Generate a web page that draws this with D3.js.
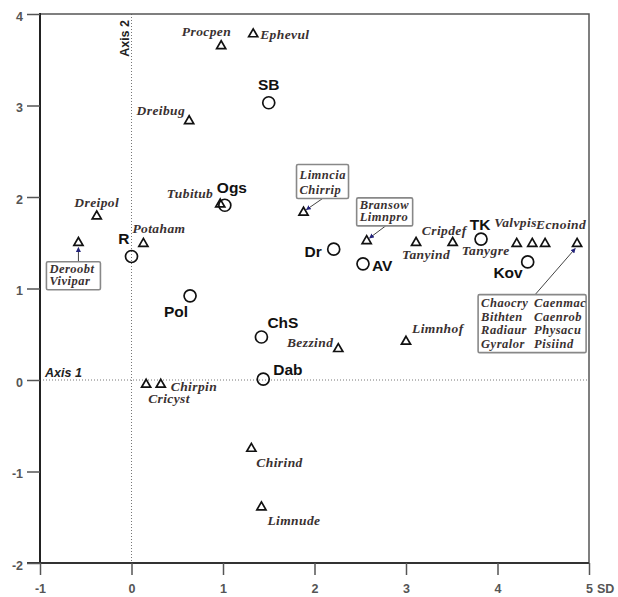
<!DOCTYPE html>
<html>
<head>
<meta charset="utf-8">
<script src="https://cdn.jsdelivr.net/npm/d3@7"></script>
<style>
  html, body { margin: 0; padding: 0; background: #fff; }
  svg { display: block; }
  .site { font-family: "Liberation Sans", Arial, sans-serif; font-weight: bold; font-size: 15.5px; fill: #111; }
  .spec { font-family: "Liberation Serif", "Times New Roman", serif; font-weight: bold; font-style: italic; font-size: 13.5px; letter-spacing: 0.4px; fill: #3a3131; }
  .boxed { font-size: 12.5px; letter-spacing: 0.5px; }
  .ticklab { font-family: "Liberation Sans", Arial, sans-serif; font-weight: bold; font-size: 12.5px; fill: #555; }
</style>
</head>
<body>
<svg id="chart" width="618" height="597"></svg>
<script>
// Ordination scores: sampling sites (circles)
const siteNames = ["SB", "Ogs", "R", "Pol", "ChS", "Dab", "Dr", "AV", "TK", "Kov"];
const siteAxis1 = [1.50, 1.02, 0.00, 0.64, 1.42, 1.44, 2.21, 2.53, 3.82, 4.33];
const siteAxis2 = [3.03, 1.91, 1.35, 0.92, 0.47, 0.01, 1.43, 1.27, 1.54, 1.29];

// Ordination scores: taxa (triangles)
const speciesNames = ["Procpen", "Ephevul", "Dreibug", "Tubitub", "Dreipol", "Potaham",
  "Tanyind", "Cripdef", "Tanygre", "Valvpis", "Ecnoind", "Limnhof", "Bezzind",
  "Chirpin", "Cricyst", "Chirind", "Limnude"];
const speciesAxis1 = [0.98, 1.33, 0.63, 0.97, -0.38, 0.13, 3.11, 3.51, 4.21, 4.38, 4.52,
  3.00, 2.26, 0.32, 0.16, 1.31, 1.42];
const speciesAxis2 = [3.65, 3.78, 2.83, 1.92, 1.79, 1.49, 1.50, 1.50, 1.49, 1.49, 1.49,
  0.42, 0.34, -0.05, -0.05, -0.75, -1.39];

// Taxa that share one position, listed in a box
const groupMembers = [
  ["Deroobt", "Vivipar"],
  ["Limncia", "Chirrip"],
  ["Bransow", "Limnpro"],
  ["Chaocry", "Caenmac", "Bithten", "Caenrob", "Radiaur", "Physacu", "Gyralor", "Pisiind"]
];
const groupAxis1 = [-0.58, 1.88, 2.57, 4.87];
const groupAxis2 = [1.50, 1.83, 1.52, 1.49];

// Axis ticks
const xTicks = [-1, 0, 1, 2, 3, 4, 5];
const yTicks = [-2, -1, 0, 1, 2, 3, 4];

// ---- layout (label placement relative to each mark) ----
const siteLabelPos = {
  SB: [0, -13, "middle"], Ogs: [-8, -12, "start"], R: [-2, -12, "end"],
  Pol: [-2, 21, "end"], ChS: [6, -9, "start"], Dab: [10, -4, "start"],
  Dr: [-12, 8, "end"], AV: [9, 7, "start"], TK: [-1, -9, "middle"], Kov: [-5, 16, "end"]
};
const specLabelPos = {
  Procpen: [10, -10, "end"], Ephevul: [7, 5, "start"], Dreibug: [-4, -6, "end"],
  Tubitub: [-7, -6, "end"], Dreipol: [0, -9, "middle"], Potaham: [-11, -11, "start"],
  Tanyind: [10, 16, "middle"], Cripdef: [14, -8, "end"], Tanygre: [-7, 11, "end"],
  Valvpis: [-38, -17, "start"], Ecnoind: [-9, -15, "start"], Limnhof: [6, -9, "start"],
  Bezzind: [-5, -2, "end"], Chirpin: [10, 6, "start"], Cricyst: [2, 18, "start"],
  Chirind: [5, 18, "start"], Limnude: [6, 18, "start"]
};
// box: [dx, dy, width, height, columns] from the mark; lead: leader start offset
const groupBox = [
  { box: [-32, 19, 54, 28, 1], lead: [0, 19] },
  { box: [-7, -48, 52, 34, 1], lead: [19, -14] },
  { box: [-10, -43, 56, 28, 1], lead: [19, -15] },
  { box: [-99, 51, 108, 58, 2], lead: [-42, 51] }
];

const svg = d3.select("#chart");
const x = d3.scaleLinear().domain([-1, 5]).range([40, 589]);
const y = d3.scaleLinear().domain([-2, 4]).range([563, 14]);

// small arrowhead for leader lines
svg.append("defs").append("marker")
  .attr("id", "arrow").attr("viewBox", "0 0 6 6").attr("refX", 5).attr("refY", 3)
  .attr("markerWidth", 5).attr("markerHeight", 5).attr("orient", "auto")
  .append("path").attr("d", "M0,0 L6,3 L0,6 Z").attr("fill", "#23237a");

// dotted zero lines
svg.append("line").attr("x1", x(0)).attr("x2", x(0)).attr("y1", y(4)).attr("y2", y(-2))
  .attr("stroke", "#777").attr("stroke-width", 1).attr("stroke-dasharray", "1,2");
svg.append("line").attr("x1", x(-1)).attr("x2", x(5)).attr("y1", y(0)).attr("y2", y(0))
  .attr("stroke", "#777").attr("stroke-width", 1).attr("stroke-dasharray", "1,2");

// frame
svg.append("rect").attr("x", x(-1)).attr("y", y(4)).attr("width", x(5) - x(-1))
  .attr("height", y(-2) - y(4)).attr("fill", "none").attr("stroke", "#555").attr("stroke-width", 1.5);
svg.append("line").attr("x1", x(-1)).attr("x2", x(-1)).attr("y1", y(4) - 1).attr("y2", y(-2))
  .attr("stroke", "#222").attr("stroke-width", 2);
svg.append("line").attr("x1", 27).attr("x2", x(5)).attr("y1", y(-2)).attr("y2", y(-2))
  .attr("stroke", "#333").attr("stroke-width", 2);

// axes
const xAxis = d3.axisBottom(x).tickValues(xTicks).tickSize(12).tickPadding(9).tickFormat(d => String(d));
const gx = svg.append("g").attr("transform", `translate(0,${y(-2)})`).call(xAxis);
gx.select(".domain").remove();
gx.selectAll(".tick line").attr("stroke", "#555").attr("stroke-width", 1.5);
gx.selectAll(".tick text").attr("class", "ticklab").attr("fill", "#555");

const yAxis = d3.axisLeft(y).tickValues(yTicks).tickSize(13).tickPadding(4).tickFormat(d => String(d));
const gy = svg.append("g").attr("transform", `translate(${x(-1)},0)`).call(yAxis);
gy.select(".domain").remove();
gy.selectAll(".tick line").attr("stroke", "#555").attr("stroke-width", 1.5);
gy.selectAll(".tick text").attr("class", "ticklab").attr("fill", "#555").attr("dy", "0.5em");

svg.append("text").attr("class", "ticklab").attr("x", x(5) + 8).attr("y", 593).text("SD");

// axis names
svg.append("text").attr("transform", `translate(${x(0) - 3},${y(4) + 6}) rotate(-90)`)
  .attr("text-anchor", "end")
  .style("font-family", "Liberation Sans, Arial, sans-serif").style("font-weight", "bold")
  .style("font-size", "12.5px").attr("fill", "#222").text("Axis 2");
svg.append("text").attr("x", x(-1) + 5).attr("y", y(0) - 3)
  .style("font-family", "Liberation Sans, Arial, sans-serif").style("font-weight", "bold")
  .style("font-style", "italic").style("font-size", "12.5px").attr("fill", "#222").text("Axis 1");

const tri = d3.symbol().type(d3.symbolTriangle).size(36);

function drawTriangle(px, py) {
  svg.append("path").attr("d", tri).attr("transform", `translate(${px},${py})`)
    .attr("fill", "#fff").attr("stroke", "#111").attr("stroke-width", 1.7);
}

// boxed groups with leader lines
groupMembers.forEach((members, i) => {
  const px = x(groupAxis1[i]), py = y(groupAxis2[i]);
  const g = groupBox[i];
  const [bx, by, bw, bh, cols] = g.box;
  const [lx, ly] = g.lead;
  svg.append("line").attr("x1", px + lx).attr("y1", py + ly)
    .attr("x2", px + (lx > 0 ? 3 : lx < 0 ? -2 : 0)).attr("y2", py + (ly > 0 ? 5 : -3))
    .attr("stroke", "#444").attr("stroke-width", 1).attr("marker-end", "url(#arrow)");
  svg.append("rect").attr("x", px + bx).attr("y", py + by).attr("width", bw).attr("height", bh)
    .attr("rx", 1.5).attr("fill", "#fff").attr("stroke", "#888").attr("stroke-width", 1.6);
  const rows = Math.ceil(members.length / cols);
  const lineH = (bh - 3) / rows;
  members.forEach((m, j) => {
    const col = j % cols, row = Math.floor(j / cols);
    svg.append("text").attr("class", "spec boxed")
      .attr("x", px + bx + 3 + col * (bw / cols - 1))
      .attr("y", py + by + 1.5 + lineH * (row + 1) - 3)
      .text(m);
  });
  drawTriangle(px, py);
});

// single taxa
speciesNames.forEach((name, i) => {
  const px = x(speciesAxis1[i]), py = y(speciesAxis2[i]);
  drawTriangle(px, py);
  const [dx, dy, anchor] = specLabelPos[name];
  svg.append("text").attr("class", "spec").attr("x", px + dx).attr("y", py + dy)
    .attr("text-anchor", anchor).text(name);
});

// sites
siteNames.forEach((name, i) => {
  const px = x(siteAxis1[i]), py = y(siteAxis2[i]);
  svg.append("circle").attr("cx", px).attr("cy", py).attr("r", 6)
    .attr("fill", "none").attr("stroke", "#111").attr("stroke-width", 1.7);
  const [dx, dy, anchor] = siteLabelPos[name];
  svg.append("text").attr("class", "site").attr("x", px + dx).attr("y", py + dy)
    .attr("text-anchor", anchor).text(name);
});
</script>
</body>
</html>
